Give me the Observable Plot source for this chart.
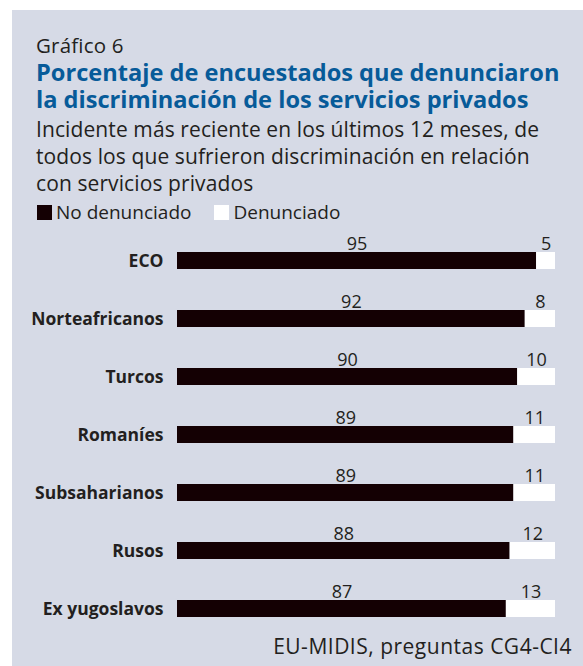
<!DOCTYPE html>
<html><head><meta charset="utf-8">
<script src="https://cdn.jsdelivr.net/npm/d3@7"></script>
<script src="https://cdn.jsdelivr.net/npm/@observablehq/plot@0.6"></script>
<style>
html,body{margin:0;padding:0;background:#fff;width:583px;height:666px;overflow:hidden}
#panel{position:absolute;left:12px;top:10px;width:571px;height:656px;background:#d6dae6;font-family:"Open Sans",sans-serif;color:#231f20}
.t{position:absolute;white-space:nowrap}
.sq{display:inline-block;width:15px;height:15px;vertical-align:-1px;margin-right:4px}
</style></head>
<body>
<div id="panel">
  <div class="t" style="left:24px;top:23px;font-size:20.5px;line-height:24px;letter-spacing:0.2px">Gráfico 6</div>
  <div class="t" style="left:24px;top:49px;font-size:23.6px;line-height:26px;font-weight:bold;color:#075b99">Porcentaje de encuestados que denunciaron</div>
  <div class="t" style="left:24px;top:76px;font-size:23.6px;line-height:26px;font-weight:bold;color:#075b99">la discriminación de los servicios privados</div>
  <div class="t" style="left:24px;top:106px;font-size:21px;line-height:27px;letter-spacing:0.1px">Incidente más reciente en los últimos 12 meses, de<br>todos los que sufrieron discriminación en relación<br>con servicios privados</div>
  <div class="t" id="legend" style="left:25px;top:190px;font-size:19px;line-height:24px"></div>
  <div id="chart" style="position:absolute;left:0;top:215px"></div>
  <div class="t" id="source" style="right:11px;top:624px;font-size:21px;line-height:24px;letter-spacing:0.5px"></div>
</div>
<script>
const categories = ["ECO","Norteafricanos","Turcos","Romaníes","Subsaharianos","Rusos","Ex yugoslavos"];
const noDenunciado = [95,92,90,89,89,88,87];
const denunciado = [5,8,10,11,11,12,13];
const seriesNames = ["No denunciado","Denunciado"];
const seriesColors = ["#140003","#ffffff"];
const sourceText = "EU-MIDIS, preguntas CG4-CI4";

const data = [];
categories.forEach((c,i)=>{
  data.push({cat:c, type:seriesNames[0], value:noDenunciado[i]});
  data.push({cat:c, type:seriesNames[1], value:denunciado[i]});
});

document.getElementById("source").textContent = sourceText;
document.getElementById("legend").innerHTML = seriesNames.map((s,i)=>
  `<span class="sq" style="background:${seriesColors[i]}"></span>${s}`).join('<span style="display:inline-block;width:23px"></span>');

const chart = Plot.plot({
  width: 571,
  height: 405,
  marginLeft: 165,
  marginRight: 28,
  marginTop: 26,
  marginBottom: 12,
  style: {background:"transparent", fontFamily:"'Open Sans', sans-serif", color:"#231f20"},
  x: {domain:[0,100], axis:null},
  y: {domain:categories, paddingInner:0.709, paddingOuter:0, label:null},
  color: {domain:seriesNames, range:seriesColors},
  marks: [
    Plot.axisY({tickSize:0, tickPadding:14, fontSize:17.5, fontWeight:"bold", label:null}),
    Plot.barX(data, Plot.stackX({x:"value", y:"cat", fill:"type", order:null})),
    Plot.text(data, Plot.stackX({x:"value", y:"cat", text:d=>String(d.value), order:null, lineAnchor:"bottom", dy:-11, fontSize:18, fill:"#231f20"}))
  ]
});
document.getElementById("chart").appendChild(chart);
</script>
</body></html>
